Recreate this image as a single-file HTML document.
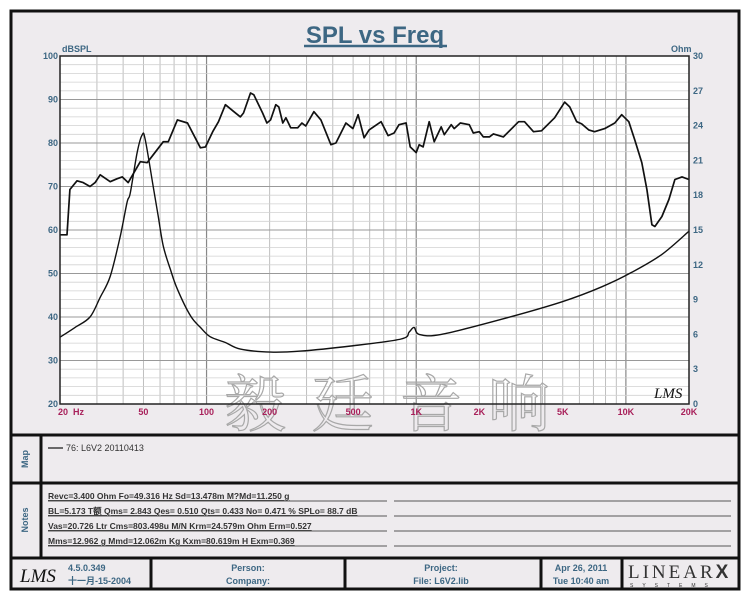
<!DOCTYPE html>
<html><head><meta charset="utf-8"><style>
body{margin:0;background:#fff;}
svg text{font-family:"Liberation Sans",Arial,sans-serif;}
</style></head><body>
<svg width="750" height="600" xmlns="http://www.w3.org/2000/svg">
<rect x="11" y="11" width="728" height="578" fill="#eeebee" stroke="#111" stroke-width="3"/>
<text x="375" y="43" text-anchor="middle" font-size="24" font-weight="bold" fill="#3d6783">SPL vs Freq</text>
<line x1="304" y1="46" x2="447" y2="46" stroke="#3d6783" stroke-width="2.5"/>
<rect x="60" y="56" width="629" height="348" fill="#fff"/>
<g id="grid"></g>
<g id="watermark">
<text x="400" y="426" text-anchor="middle" font-size="62" fill="none" stroke="#a8a8a8" stroke-width="1.2" letter-spacing="26" style="font-family:'Noto Serif CJK SC','Noto Sans CJK SC',serif">毅廷音响</text>
</g>
<g id="series"></g>
<rect x="60" y="56" width="629" height="348" fill="none" stroke="#222" stroke-width="1.5"/>
<text x="654" y="398" font-size="15" font-style="italic" fill="#111" style="font-family:'Liberation Serif',serif">LMS</text>
<g id="axes"></g>
<text x="62" y="52" font-size="9" font-weight="bold" fill="#3d6783">dBSPL</text>
<text x="671" y="52" font-size="9" font-weight="bold" fill="#3d6783">Ohm</text>
<line x1="11" y1="435" x2="739" y2="435" stroke="#111" stroke-width="3"/>
<line x1="11" y1="483" x2="739" y2="483" stroke="#111" stroke-width="3"/>
<line x1="11" y1="558" x2="739" y2="558" stroke="#111" stroke-width="3"/>
<line x1="41" y1="435" x2="41" y2="558" stroke="#111" stroke-width="3"/>
<text transform="translate(28,459) rotate(-90)" text-anchor="middle" font-size="9" font-weight="bold" fill="#3d6783">Map</text>
<text transform="translate(28,520) rotate(-90)" text-anchor="middle" font-size="9" font-weight="bold" fill="#3d6783">Notes</text>
<g>
<line x1="48" y1="448" x2="63" y2="448" stroke="#111" stroke-width="1.2"/>
<text x="66" y="451" font-size="9" fill="#333">76: L6V2  20110413</text>
</g>
<g font-size="8.5" font-weight="bold" fill="#333" text-decoration="underline">
<text x="48" y="499">Revc=3.400 Ohm  Fo=49.316 Hz  Sd=13.478m M?Md=11.250 g</text>
<text x="48" y="514">BL=5.173 T额  Qms= 2.843  Qes= 0.510  Qts= 0.433  No= 0.471 %  SPLo= 88.7 dB</text>
<text x="48" y="529">Vas=20.726 Ltr  Cms=803.498u M/N  Krm=24.579m Ohm  Erm=0.527</text>
<text x="48" y="544">Mms=12.962 g  Mmd=12.062m Kg  Kxm=80.619m H  Exm=0.369</text>
</g>
<g stroke="#555" stroke-width="1">
<line x1="48" y1="501" x2="387" y2="501"/><line x1="394" y1="501" x2="731" y2="501"/>
<line x1="48" y1="516" x2="387" y2="516"/><line x1="394" y1="516" x2="731" y2="516"/>
<line x1="48" y1="531" x2="387" y2="531"/><line x1="394" y1="531" x2="731" y2="531"/>
<line x1="48" y1="546" x2="387" y2="546"/><line x1="394" y1="546" x2="731" y2="546"/>
</g>
<g stroke="#111" stroke-width="3">
<line x1="151" y1="558" x2="151" y2="589"/><line x1="345" y1="558" x2="345" y2="589"/>
<line x1="541" y1="558" x2="541" y2="589"/><line x1="622" y1="558" x2="622" y2="589"/>
</g>
<text x="20" y="582" font-size="19" font-style="italic" fill="#111" style="font-family:'Liberation Serif',serif">LMS</text>
<g font-size="9" font-weight="bold" fill="#3d6783">
<text x="68" y="571">4.5.0.349</text>
<text x="68" y="584" style="font-family:'Liberation Sans','Noto Sans CJK SC',sans-serif">十一月-15-2004</text>
<text x="248" y="571" text-anchor="middle">Person:</text>
<text x="248" y="584" text-anchor="middle">Company:</text>
<text x="441" y="571" text-anchor="middle">Project:</text>
<text x="441" y="584" text-anchor="middle">File: L6V2.lib</text>
<text x="581" y="571" text-anchor="middle">Apr 26, 2011</text>
<text x="581" y="584" text-anchor="middle">Tue 10:40 am</text>
</g>
<g>
<text x="628" y="578" font-size="19" fill="#333" letter-spacing="3" style="font-family:'Liberation Serif',serif">LINEAR<tspan font-weight="bold" font-family="Liberation Sans">X</tspan></text>
<text x="630" y="587" font-size="5" fill="#333" letter-spacing="9">SYSTEMS</text>
</g>
</svg>
<script>
const freqTicks=[20,50,100,200,500,1000,2000,5000,10000,20000];
const freqTickLabels=["20  Hz","50","100","200","500","1K","2K","5K","10K","20K"];
const dbTicks=[20,30,40,50,60,70,80,90,100];
const ohmTicks=[0,3,6,9,12,15,18,21,24,27,30];
const splFreq=[20,21.6,22.3,24.1,25.8,27.8,29.4,31.1,34.7,37.5,39.6,42.3,48.3,52.1,55.7,62.2,65.7,72.6,81.1,93.5,98.8,107,114,123,135,145,150,162,168,185,194,202,214,221,231,239,252,272,285,297,325,351,392,414,462,499,528,564,596,680,734,784,828,895,936,1000,1033,1079,1153,1219,1316,1361,1469,1517,1622,1791,1871,2000,2090,2233,2333,2606,3078,3283,3626,3960,4572,5105,5396,5824,6153,6650,7096,7927,8854,9553,10322,11030,11913,12590,13307,13746,14850,16035,17130,18520,20000];
const splDb=[58.9,58.9,69.3,71.3,70.9,70.0,70.9,72.7,71.1,71.8,72.2,70.9,75.7,75.5,77.3,80.3,80.3,85.3,84.6,78.9,79.1,82.6,84.9,88.8,87.2,86.0,86.9,91.5,91.1,86.9,84.6,85.3,88.8,88.3,84.6,85.8,83.5,83.5,84.6,83.9,87.2,85.3,79.6,80.0,84.6,83.3,86.5,81.2,83.0,84.9,81.7,82.3,84.2,84.6,79.1,77.8,79.6,79.1,84.9,80.3,83.7,81.9,84.2,83.3,84.6,84.2,82.3,82.6,81.4,81.4,82.1,81.4,84.9,84.9,82.6,82.8,85.8,89.4,88.3,84.9,84.4,83.0,82.6,83.3,84.6,86.5,84.9,80.7,75.5,69.3,61.2,60.8,63.1,67.0,71.6,72.2,71.6,69.7];
const impFreq=[20,23.6,27.8,31.1,34.7,38.7,41.8,43.3,46.7,49.3,51.0,55.7,58.9,62.2,67.2,72.6,83.8,93.5,104,123,145,202,281,488,847,925,977,1033,1316,2547,4935,7673,10670,14850,20000];
const impOhm=[5.76,6.6,7.5,9.2,11.0,14.4,17.4,18.2,21.7,23.2,22.8,18.7,16.1,13.6,11.6,9.9,7.6,6.6,5.8,5.3,4.73,4.47,4.56,5.0,5.6,6.2,6.6,6.0,6.0,7.3,8.8,10.1,11.35,12.9,14.9];

const X0=60,X1=689,Y0=56,Y1=404;
const NS="http://www.w3.org/2000/svg";
function xScale(f){return X0+(Math.log10(f/20)/3)*(X1-X0);}
function yDb(v){return Y1-(v-20)/80*(Y1-Y0);}
function yOhm(v){return Y1-v/30*(Y1-Y0);}
function mk(tag,attrs,parent){const e=document.createElementNS(NS,tag);for(const k in attrs)e.setAttribute(k,attrs[k]);parent.appendChild(e);return e;}
function smoothPath(pts){let d='M'+pts[0][0].toFixed(1)+','+pts[0][1].toFixed(1);
 for(let i=0;i<pts.length-1;i++){const p0=pts[i-1]||pts[i],p1=pts[i],p2=pts[i+1],p3=pts[i+2]||p2;
  const c1x=p1[0]+(p2[0]-p0[0])/6,c1y=p1[1]+(p2[1]-p0[1])/6,c2x=p2[0]-(p3[0]-p1[0])/6,c2y=p2[1]-(p3[1]-p1[1])/6;
  d+=' C'+c1x.toFixed(1)+','+c1y.toFixed(1)+' '+c2x.toFixed(1)+','+c2y.toFixed(1)+' '+p2[0].toFixed(1)+','+p2[1].toFixed(1);}
 return d;}
const grid=document.getElementById('grid');
const decStarts=[10,100,1000,10000];
decStarts.forEach(s=>{for(let m=1;m<=9;m++){const f=s*m;if(f<=20||f>=20000)continue;
 const major=(m===1);const l=mk('line',{x1:xScale(f),x2:xScale(f),y1:Y0,y2:Y1,stroke:major?'#888':'#b8b8b8','stroke-width':major?1.2:0.9},grid);
 
 }});
for(let v=20;v<=100;v+=2){const major=(v%10===0);
 const l=mk('line',{x1:X0,x2:X1,y1:yDb(v),y2:yDb(v),stroke:major?'#999':'#d2d2d2','stroke-width':major?1.1:0.8},grid);
 
 }
const series=document.getElementById('series');
const spl=mk('polyline',{points:splFreq.map((f,i)=>xScale(f).toFixed(1)+','+yDb(splDb[i]).toFixed(1)).join(' '),fill:'none',stroke:'#111','stroke-width':1.7,'stroke-linejoin':'round'},series);


const imp=mk('path',{d:smoothPath(impFreq.map((f,i)=>[xScale(f),yOhm(impOhm[i])])),fill:'none',stroke:'#111','stroke-width':1.4},series);


const axes=document.getElementById('axes');
freqTicks.forEach((f,i)=>{const t=mk('text',{x:xScale(f),y:Y1+11,'text-anchor':i===0?'start':'middle','font-size':9,'font-weight':'bold',fill:'#a8205a'},axes);
 if(i===0)t.setAttribute('x',X0-2);
 t.setAttribute('style','white-space:pre');
 t.textContent=freqTickLabels[i];
 
 });
dbTicks.forEach(v=>{const t=mk('text',{x:X0-2,y:yDb(v)+3,'text-anchor':'end','font-size':9,'font-weight':'bold',fill:'#3d6783'},axes);
 t.textContent=v;
 
 });
ohmTicks.forEach(v=>{const t=mk('text',{x:X1+4,y:yOhm(v)+3,'font-size':9,'font-weight':'bold',fill:'#3d6783'},axes);
 t.textContent=v;
 
 });
</script>
</body></html>
